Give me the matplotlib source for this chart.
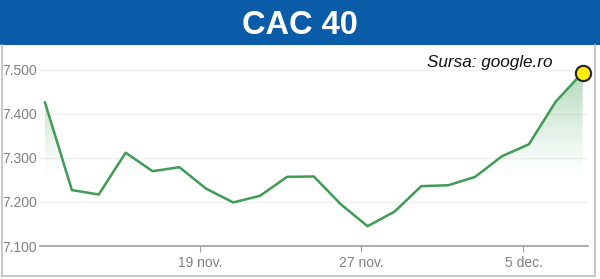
import numpy as np
import matplotlib.pyplot as plt
from matplotlib.patches import Rectangle

# CAC 40 closing values (one point per trading day)
values = [7426, 7227, 7217, 7312, 7270, 7279, 7230, 7199, 7214, 7257,
          7258, 7195, 7145, 7178, 7236, 7238, 7257, 7304, 7331, 7428, 7494]
tick_pos = [5.77, 11.77, 17.8]
tick_labels = ['19 nov.', '27 nov.', '5 dec.']
y_ticks = [7100, 7200, 7300, 7400, 7500]

plt.rcParams['font.family'] = ['Liberation Sans', 'DejaVu Sans']

W, H = 600, 279
fig = plt.figure(figsize=(W / 100, H / 100), dpi=100)

# title band
fig.patches.append(Rectangle((0, 1 - 45 / H), 1, 45 / H, transform=fig.transFigure,
                             facecolor='#0b5ca8', edgecolor='none', zorder=0))
fig.text(0.5, 1 - 25 / H, 'CAC 40', color='white', fontsize=23.5, fontweight='bold',
         ha='center', va='center')

# light frame round the chart
frame_col = '#bdbdbd'
fig.add_artist(plt.Line2D([1.5 / W, 1.5 / W], [3 / H, 1 - 45 / H], color=frame_col, lw=1.2))
fig.add_artist(plt.Line2D([595 / W, 595 / W], [3 / H, 1 - 45 / H], color=frame_col, lw=1.2))
fig.add_artist(plt.Line2D([1.5 / W, 595 / W], [3 / H, 3 / H], color=frame_col, lw=1.2))

ax = fig.add_axes([40 / W, 33 / H, 548 / W, 184 / H])
x = np.arange(len(values))
ax.set_xlim(-0.186, 20.2)
ax.set_ylim(7100, 7518)

line_col = '#3f9c55'
ax.plot(x, values, color=line_col, lw=1.8, zorder=3, solid_joinstyle='round')

# vertical gradient fill under the line, stronger near the top
poly = ax.fill_between(x, values, 7100, color='none', lw=0)
grad = np.zeros((200, 2, 4))
grad[..., :3] = np.array([0.26, 0.63, 0.35])
yy = np.linspace(7518, 7100, 200)
grad[..., 3] = (np.clip((yy - 7250) / (7500 - 7250), 0, 1) ** 1.3 * 0.42)[:, None]
img = ax.imshow(grad, extent=[-0.186, 20.2, 7100, 7518], aspect='auto',
                origin='upper', zorder=2)
img.set_clip_path(poly.get_paths()[0], transform=ax.transData)

ax.plot(x[-1], values[-1], 'o', ms=11, mfc='#ffeb0a', mec='#222222', mew=1.5,
        zorder=5, clip_on=False)

for s in ['top', 'right', 'left']:
    ax.spines[s].set_visible(False)
ax.spines['bottom'].set_color('#9e9e9e')
ax.spines['bottom'].set_linewidth(1.2)

ax.set_yticks(y_ticks)
ax.set_yticklabels([f'{v:,}'.replace(',', '.') for v in y_ticks])
ax.tick_params(axis='y', length=0, pad=2, labelsize=10, labelcolor='#808080')
ax.set_xticks(tick_pos)
ax.set_xticklabels(tick_labels)
ax.tick_params(axis='x', length=4, color='#9e9e9e', pad=3, labelsize=10,
               labelcolor='#808080')
ax.grid(axis='y', color='#f0f0f0', lw=1)
ax.set_axisbelow(True)

fig.text(427 / W, 1 - 63 / H, 'Sursa: google.ro', fontsize=12.3, style='italic',
         color='#111111', ha='left', va='center')

fig.savefig('out.png', dpi=100)
